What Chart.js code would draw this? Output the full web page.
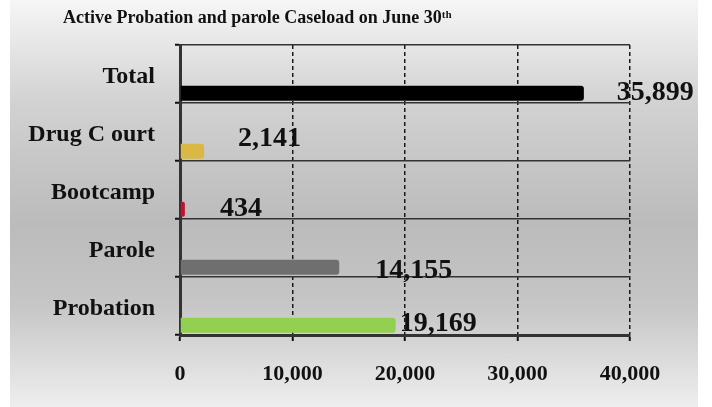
<!DOCTYPE html>
<html>
<head>
<meta charset="utf-8">
<script src="https://cdn.jsdelivr.net/npm/chart.js@4"></script>
<style>
    html, body { margin: 0; padding: 0; background: #fff; }
    #wrap { position: relative; width: 712px; height: 407px; }
    #panel {
        position: absolute; left: 10px; top: 0; width: 688px; height: 407px;
        background: linear-gradient(to bottom, #f6f6f6 0%, #d2d2d2 25%, #bbbbbb 55%, #c6c6c6 75%, #eeeeee 100%);
    }
    #chart { position: absolute; left: 0; top: 0; }
</style>
</head>
<body>
<div id="wrap">
    <div id="panel"></div>
    <canvas id="chart" width="712" height="407"></canvas>
</div>
<script>
var chartTitle = 'Active Probation and parole Caseload on June 30ᵗʰ';
var categories = ['Total', 'Drug C ourt', 'Bootcamp', 'Parole', 'Probation'];
var caseload = [35899, 2141, 434, 14155, 19169];
var barColors = ['#000000', '#d9b843', '#c8102e', '#6f6f6f', '#92d050'];
var xTicks = [0, 10000, 20000, 30000, 40000];

var serif = '"Liberation Serif", "Times New Roman", serif';

// label nudges (px) so the value text sits where the original has it
var labelDx = [33, 34, 35, 36, 4];
var labelDy = [-1, -13, -1, 3, -2];

var valueLabels = {
    id: 'valueLabels',
    afterDatasetsDraw: function (chart) {
        var ctx = chart.ctx;
        var meta = chart.getDatasetMeta(2);
        ctx.save();
        ctx.font = 'bold 28px ' + serif;
        ctx.fillStyle = '#111';
        ctx.textAlign = 'left';
        ctx.textBaseline = 'middle';
        meta.data.forEach(function (bar, i) {
            ctx.fillText(caseload[i].toLocaleString('en-US'), bar.x + labelDx[i], bar.y + labelDy[i]);
        });
        ctx.restore();
    }
};

// title sits left of centre in the original, so draw it ourselves
var leftTitle = {
    id: 'leftTitle',
    afterDraw: function (chart) {
        var ctx = chart.ctx;
        ctx.save();
        ctx.font = 'bold 18px ' + serif;
        ctx.fillStyle = '#111';
        ctx.textAlign = 'left';
        ctx.textBaseline = 'middle';
        ctx.fillText(chartTitle, 63, 18);
        ctx.restore();
    }
};

var spacer = categories.map(function () { return null; });

new Chart(document.getElementById('chart').getContext('2d'), {
    type: 'bar',
    data: {
        labels: categories,
        datasets: [
            { data: spacer, backgroundColor: 'transparent' },
            { data: spacer, backgroundColor: 'transparent' },
            {
                data: caseload,
                backgroundColor: barColors,
                borderRadius: 3,
                borderSkipped: 'start'
            }
        ]
    },
    options: {
        indexAxis: 'y',
        responsive: false,
        animation: false,
        datasets: { bar: { barPercentage: 0.78, categoryPercentage: 1 } },
        layout: { padding: { left: 0, right: 82, top: 45, bottom: 0 } },
        plugins: {
            legend: { display: false },
            tooltip: { enabled: false },
            title: { display: false }
        },
        scales: {
            x: {
                min: 0,
                max: 40000,
                afterBuildTicks: function (axis) {
                    axis.ticks = xTicks.map(function (v) { return { value: v }; });
                },
                afterFit: function (axis) { axis.height = 72; },
                grid: {
                    color: '#1a1a1a',
                    lineWidth: 1.5,
                    tickLength: 6,
                    tickColor: '#111',
                    tickWidth: 2,
                    tickBorderDash: []
                },
                border: { display: true, color: '#333', width: 3, dash: [4, 3] },
                ticks: {
                    color: '#111',
                    padding: 20,
                    font: { family: serif, size: 22, weight: 'bold' },
                    callback: function (v) { return v.toLocaleString('en-US'); }
                }
            },
            y: {
                afterFit: function (axis) { axis.width = 180; },
                grid: {
                    offset: true,
                    color: '#333',
                    lineWidth: 1.5,
                    tickLength: 5,
                    tickColor: '#111',
                    tickWidth: 2
                },
                border: { display: true, color: '#333', width: 3 },
                ticks: {
                    color: '#111',
                    padding: 20,
                    labelOffset: 3,
                    font: { family: serif, size: 24, weight: 'bold' }
                }
            }
        }
    },
    plugins: [valueLabels, leftTitle]
});
</script>
</body>
</html>
